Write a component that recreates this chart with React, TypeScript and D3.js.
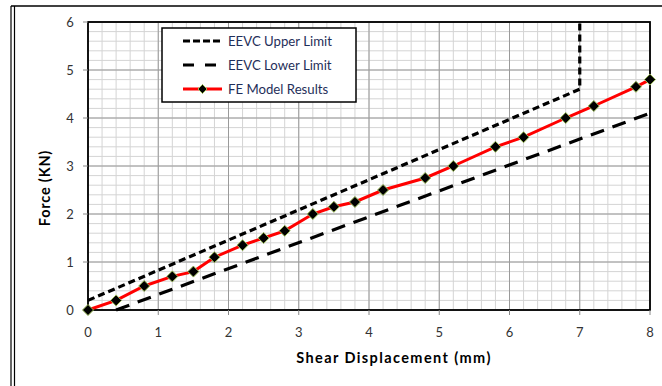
import React from "react";
import * as d3 from "d3";

const xTicks = [0, 1, 2, 3, 4, 5, 6, 7, 8];
const yTicks = [0, 1, 2, 3, 4, 5, 6];

const feX = [0, 0.4, 0.8, 1.2, 1.5, 1.8, 2.2, 2.5, 2.8, 3.2, 3.5, 3.8, 4.2, 4.8, 5.2, 5.8, 6.2, 6.8, 7.2, 7.8, 8.0];
const feY = [0, 0.2, 0.5, 0.7, 0.8, 1.1, 1.35, 1.5, 1.65, 2.0, 2.15, 2.25, 2.5, 2.75, 3.0, 3.4, 3.6, 4.0, 4.25, 4.65, 4.8];

const upperX = [0, 7, 7];
const upperY = [0.2, 4.6, 6];

const lowerX = [0.4, 8];
const lowerY = [0, 4.1];

const legendLabels = ["EEVC Upper Limit", "EEVC Lower Limit", "FE Model Results"];

const W = 662;
const H = 386;
const L = 88, R = 650, T = 22, B = 310;
const FONT = "Lato, 'Open Sans', sans-serif";

export default function App() {
  const x = d3.scaleLinear().domain([0, 8]).range([L, R]);
  const y = d3.scaleLinear().domain([0, 6]).range([B, T]);
  const line = d3.line<[number, number]>().x(d => x(d[0])).y(d => y(d[1]));

  const minorX = d3.range(0, 8.0001, 0.2);
  const minorY = d3.range(0, 6.0001, 0.2);

  const fe = feX.map((v, i) => [v, feY[i]] as [number, number]);
  const up = upperX.map((v, i) => [v, upperY[i]] as [number, number]);
  const lo = lowerX.map((v, i) => [v, lowerY[i]] as [number, number]);

  const diamond = (cx: number, cy: number, r: number) =>
    `M${cx},${cy - r}L${cx + r},${cy}L${cx},${cy + r}L${cx - r},${cy}Z`;

  const legY = [41, 65, 89];

  return (
    <svg width={W} height={H} style={{ position: "absolute", left: 0, top: 0, background: "#fff" }}>
      <rect x={0} y={0} width={W} height={H} fill="#fff" />
      {/* outer frame */}
      <line x1={11} x2={W} y1={6} y2={6} stroke="#000" strokeWidth={1.5} />
      <line x1={11} x2={11} y1={6} y2={H} stroke="#000" strokeWidth={1.2} />
      <line x1={14.5} x2={14.5} y1={6} y2={H} stroke="#000" strokeWidth={1.2} />

      {/* minor grid */}
      {minorX.map((v, i) => (
        <line key={"mx" + i} x1={x(v)} x2={x(v)} y1={T} y2={B} stroke="#d4d4d4" strokeWidth={1} />
      ))}
      {minorY.map((v, i) => (
        <line key={"my" + i} x1={L} x2={R} y1={y(v)} y2={y(v)} stroke="#d4d4d4" strokeWidth={1} />
      ))}
      {/* major grid */}
      {xTicks.map(v => (
        <line key={"gx" + v} x1={x(v)} x2={x(v)} y1={T} y2={B} stroke="#9a9a9a" strokeWidth={1} />
      ))}
      {yTicks.map(v => (
        <line key={"gy" + v} x1={L} x2={R} y1={y(v)} y2={y(v)} stroke="#9a9a9a" strokeWidth={1} />
      ))}

      {/* plot border */}
      <rect x={L} y={T} width={R - L} height={B - T} fill="none" stroke="#000" strokeWidth={1.8} />

      {/* ticks */}
      {xTicks.map(v => (
        <line key={"tx" + v} x1={x(v)} x2={x(v)} y1={B} y2={B + 5} stroke="#888" strokeWidth={1} />
      ))}
      {yTicks.map(v => (
        <line key={"ty" + v} x1={L - 5} x2={L} y1={y(v)} y2={y(v)} stroke="#888" strokeWidth={1} />
      ))}
      {xTicks.map(v => (
        <text key={"lx" + v} x={x(v)} y={B + 27} textAnchor="middle" fontFamily={FONT} fontSize={13} fill="#333">
          {v}
        </text>
      ))}
      {yTicks.map(v => (
        <text key={"ly" + v} x={L - 18} y={y(v) + 4.5} textAnchor="middle" fontFamily={FONT} fontSize={13} fill="#333">
          {v}
        </text>
      ))}

      {/* axis titles */}
      <text x={394} y={363} textAnchor="middle" fontFamily={FONT} fontSize={14.5} fontWeight="bold" fill="#000" letterSpacing={1.4}>
        Shear Displacement (mm)
      </text>
      <text
        transform={`translate(50,188) rotate(-90)`}
        textAnchor="middle"
        fontFamily={FONT}
        fontSize={14.5}
        fontWeight="bold"
        fill="#000"
        letterSpacing={0.8}
      >
        Force (KN)
      </text>

      {/* series */}
      <path d={line(up) || ""} fill="none" stroke="#000" strokeWidth={3.2} strokeDasharray="7,4" />
      <path d={line(lo) || ""} fill="none" stroke="#000" strokeWidth={3.2} strokeDasharray="14,9" />
      <path d={line(fe) || ""} fill="none" stroke="#ff0000" strokeWidth={3} />
      {fe.map((d, i) => (
        <path key={"m" + i} d={diamond(x(d[0]), y(d[1]), 5.5)} fill="#000" stroke="#9bbb59" strokeWidth={1} />
      ))}

      {/* legend */}
      <rect x={162} y={28} width={194} height={74} fill="#fff" stroke="#000" strokeWidth={1.5} />
      <line x1={183} x2={222} y1={legY[0]} y2={legY[0]} stroke="#000" strokeWidth={3.2} strokeDasharray="7,3" />
      <line x1={183} x2={222} y1={legY[1]} y2={legY[1]} stroke="#000" strokeWidth={3.2} strokeDasharray="11,11" />
      <line x1={183} x2={222} y1={legY[2]} y2={legY[2]} stroke="#ff0000" strokeWidth={3} />
      <path d={diamond(202.5, legY[2], 4.5)} fill="#000" stroke="#9bbb59" strokeWidth={1} />
      {legendLabels.map((t, i) => (
        <text key={t} x={228} y={legY[i] + 4.5} fontFamily={FONT} fontSize={13.2} fill="#1f2f5a">
          {t}
        </text>
      ))}
    </svg>
  );
}
